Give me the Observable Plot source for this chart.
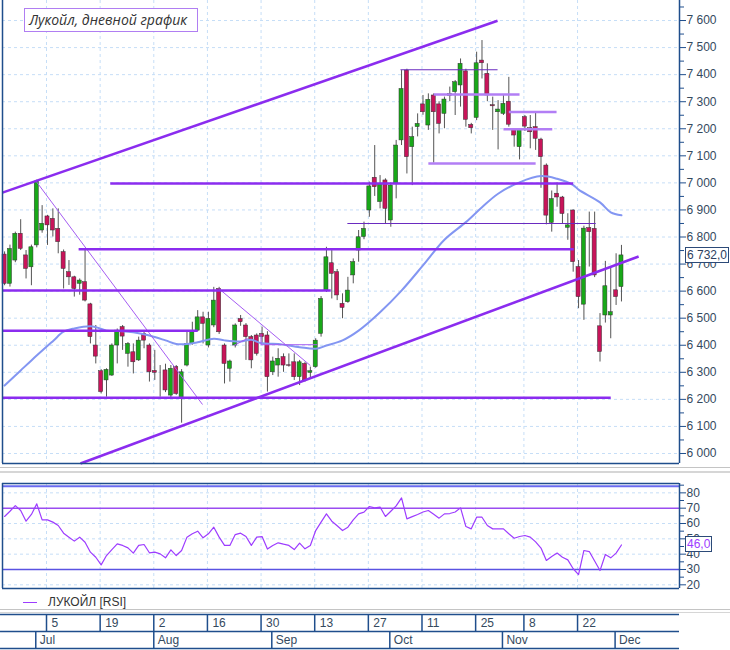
<!DOCTYPE html>
<html><head><meta charset="utf-8">
<script src="https://cdn.jsdelivr.net/npm/d3@7"></script>
<script src="https://cdn.jsdelivr.net/npm/@observablehq/plot@0.6"></script>
<style>
body{margin:0;background:#fff;font-family:"Liberation Sans",Arial,sans-serif;}
#wrap{position:relative;width:730px;height:650px;overflow:hidden;background:#fff;}
#wrap svg{position:absolute;left:0;overflow:visible;}
.box{position:absolute;background:#fff;border:1px solid #2c4a78;font-size:12px;line-height:14px;padding:0 1px;color:#2c3e5e;white-space:nowrap;}
</style></head>
<body><div id="wrap"></div>
<script>
// ---------- DATA ----------
// trading-day index 0 = Mon 5 Jul 2021; first candle index -8 (23 Jun)
const firstIdx = -8;
const opens = [
  6735,6627,6713,6812,6732,6688,6769,6824,
  6876,6867,6830,6744,6670,6651,6627,6633,6551,6399,
  6304,6270,6288,6399,6467,6368,6374,6344,6442,6399,
  6305,6300,6307,6214,6319,6202,6325,6405,6454,6503,
  6399,6473,6608,6399,6313,6399,6497,6473,6430,6436,
  6442,6436,6300,6325,6356,6326,6337,6282,6331,6298,
  6319,6442,6602,6703,6670,6553,6559,6658,6750,6800,
  6898,7019,6929,7009,6861,6996,7157,7415,7132,7206,
  7290,7212,7323,7290,7255,7322,7335,7360,7412,7214,
  7240,7452,7403,7287,7261,7255,7300,7196,7132,7243,
  7202,7206,7160,7064,6852,6960,6946,6834,6898,6689,
  6550,6833,6830,6470,6510,6510,6603,6615];
const highs = [
  6745,6770,6818,6864,6750,6770,7010,6916,
  6880,6904,6904,6752,6713,6655,6645,6753,6555,6473,
  6310,6313,6405,6460,6473,6410,6405,6430,6454,6405,
  6381,6325,6330,6325,6325,6310,6454,6485,6528,6522,
  6522,6614,6614,6405,6345,6479,6510,6480,6436,6442,
  6467,6450,6356,6387,6368,6368,6368,6344,6337,6319,
  6424,6580,6762,6750,6680,6590,6651,6719,6824,6855,
  7003,7138,7027,7015,7000,7157,7415,7420,7206,7255,
  7323,7329,7329,7300,7317,7354,7378,7458,7420,7220,
  7483,7526,7440,7317,7304,7323,7390,7200,7200,7249,
  7249,7261,7165,7070,6970,7000,6950,6886,6900,6713,
  6840,6892,6892,6517,6710,6689,6738,6769];
const lows = [
  6620,6615,6705,6750,6645,6620,6760,6814,
  6769,6800,6738,6608,6621,6578,6585,6560,6405,6331,
  6220,6208,6285,6331,6381,6319,6294,6340,6387,6264,
  6270,6208,6225,6205,6215,6112,6320,6400,6450,6405,
  6390,6465,6440,6257,6264,6390,6470,6344,6313,6360,
  6405,6227,6288,6282,6300,6319,6270,6251,6264,6276,
  6315,6430,6595,6571,6565,6498,6555,6627,6707,6790,
  6873,6950,6904,6849,6836,6941,7138,7033,6990,7170,
  7250,7194,7073,7181,7200,7300,7249,7280,7206,7181,
  7230,7384,7300,7194,7122,7249,7206,7132,7085,7190,
  7126,7120,6980,6845,6818,6910,6849,6788,6670,6535,
  6492,6689,6650,6338,6482,6424,6547,6560];
const closes = [
  6627,6756,6812,6756,6682,6762,7005,6849,
  6843,6824,6781,6682,6651,6608,6639,6565,6430,6358,
  6227,6309,6399,6454,6432,6405,6337,6417,6417,6300,
  6298,6300,6233,6313,6220,6300,6405,6448,6503,6479,
  6497,6565,6448,6331,6340,6473,6485,6430,6344,6368,
  6430,6282,6340,6350,6325,6324,6282,6337,6270,6304,
  6417,6571,6725,6664,6584,6538,6602,6707,6799,6830,
  6987,6984,6996,6904,6990,7138,7347,7095,7169,7218,
  7261,7307,7261,7218,7308,7328,7372,7440,7233,7202,
  7442,7442,7323,7283,7271,7292,7215,7175,7196,7208,
  7187,7163,7095,6879,6940,6946,6885,6843,6707,6578,
  6831,6818,6658,6375,6618,6522,6578,6732];

// moving average (read at selected days)
const maIdx = [-8,-5,-3,1,3,5,8,9,11,14,16,19,22,24,26,28,31,33,36,38,40,43,47,50,52,55,58,62,66,70,74,78,81,84,88,92,95,98,99,103,105,107];
const maVal = [6251,6307,6344,6415,6450,6462,6470,6467,6454,6452,6448,6436,6418,6405,6405,6411,6424,6418,6414,6420,6407,6405,6393,6387,6399,6418,6454,6522,6602,6695,6790,6855,6910,6960,7002,7025,7015,6992,6975,6928,6891,6880];

// RSI, one value per candle
const rsiVals = [
  64.6,68.0,71.7,68.5,61.5,65.9,72.8,62.4,
  62.4,60.9,58.7,53.7,51.1,48.5,51.1,47.8,41.3,38.0,
  33.0,39.1,43.0,46.7,45.7,44.1,40.7,45.7,46.3,40.9,
  41.3,40.2,37.6,42.8,39.1,42.4,51.1,53.3,55.0,50.7,
  53.3,57.6,51.1,45.7,45.7,52.8,53.7,51.5,45.7,51.1,
  51.5,43.3,45.7,47.4,46.5,45.7,43.0,47.2,43.5,45.7,
  55.4,60.9,66.3,61.5,58.5,55.4,57.6,62.4,66.3,67.4,
  71.1,70.2,70.7,64.6,68.0,71.5,76.7,63.0,64.5,65.9,
  67.5,68.5,66.0,63.5,66.3,66.5,67.5,70.2,58.0,56.5,
  64.1,64.1,58.7,56.5,56.5,56.5,53.3,50.4,51.5,52.2,
  51.1,48.0,44.0,35.9,38.5,40.7,38.0,36.3,30.5,26.7,
  42.4,41.7,35.5,29.3,39.8,37.6,40.7,46.0];

// drawn levels / trend lines: [idx1, price1, idx2, price2]
const trendLines = [[-8.4,6964,83.9,7599],[6.15,5963,110.2,6728]];
const levelLines = [[11.7,6998,98.0,6998],[5.8,6755,98.1,6755],[-8.4,6602,52.8,6602],[-8.4,6454,28.0,6454],[-8.4,6206,105.0,6206]];
const thinLines = [[-2.24,7009,28.9,6181],[31.9,6610,49.0,6325],[34.7,6399,37.3,6425],[39.8,6442,39.8,6402],[39.8,6402,50.3,6402]];
const darkLines = [[65.8,7418,83.9,7418],[55.9,6850,102.2,6850]];
const lightLevels = [[72,7327,88,7327],[86,7262,94.9,7262],[85,7198,94.1,7198],[71,7072,91,7072]];

// time axis
const dayTickIdx = [0,10,20,30,40,50,60,70,80,89,99];
const dayTickLabels = ["5","19","2","16","30","13","27","11","25","8","22"];
const monthIdx = [-2,20,42,64,85,106];
const monthLabels = ["Jul","Aug","Sep","Oct","Nov","Dec"];

const priceTicks = d3.range(6000, 7601, 100);
const priceMinor = d3.range(6050, 7651, 100);
const rsiTicks = [20,30,40,50,60,70,80];
const rsiMinor = [25,35,45,55,65,75,85];
const lastPrice = 6732.0, lastRsi = 46.0;

// ---------- BUILD ----------
const candles = opens.map((o,k)=>({i:firstIdx+k, open:o, high:highs[k], low:lows[k], close:closes[k]}));
const ma = maIdx.map((i,k)=>({i, v:maVal[k]}));
const rsi = rsiVals.map((v,k)=>({i:firstIdx+k, v}));
const seg = a => a.map(([x1,y1,x2,y2])=>({x1,y1,x2,y2}));
const days = dayTickIdx.map((i,k)=>({i, label:dayTickLabels[k]}));
const months = monthIdx.map((i,k)=>({i, label:monthLabels[k]}));

const X0 = -8.39, X1 = 117.82, XL = -8.76;
const AX = "#1f4e8c", TXT = "#34495e", GRID = "#c6def7";
const GREEN = "#18a818", RED = "#c8145a";
const PURPLE = "#8b2cef", LAV = "#b27ef5";
const fmt = d => d3.format(",")(d).replace(",", "\u00a0");
const style = {fontFamily:"'Liberation Sans',Arial,sans-serif", fontSize:"12px", color:TXT, background:"transparent"};
const wrap = document.getElementById("wrap");

const main = Plot.plot({
  width:730, height:470, marginLeft:2, marginRight:51, marginTop:0, marginBottom:7,
  x:{domain:[X0,X1], axis:null}, y:{domain:[5963,7674], axis:null}, style,
  marks:[
    Plot.ruleY(priceTicks, {stroke:GRID, strokeDasharray:"3,3"}),
    Plot.ruleX(dayTickIdx, {stroke:GRID, strokeDasharray:"3,3", dx:-1}),
    Plot.ruleX(candles, {x:"i", y1:"low", y2:"high", stroke:"#555", strokeWidth:1}),
    Plot.rect(candles, {x1:d=>d.i-0.38, x2:d=>d.i+0.38, y1:"open", y2:"close",
      fill:d=>d.close>=d.open?GREEN:RED, stroke:"#333", strokeWidth:0.5}),
    Plot.line(ma, {x:"i", y:"v", stroke:"#8396f2", strokeWidth:2, curve:"catmull-rom"}),
    Plot.link(seg(thinLines), {x1:"x1",y1:"y1",x2:"x2",y2:"y2", stroke:"#a55cf2", strokeWidth:1}),
    Plot.link(seg(darkLines), {x1:"x1",y1:"y1",x2:"x2",y2:"y2", stroke:"#6a2bc0", strokeWidth:1.2}),
    Plot.link(seg(lightLevels), {x1:"x1",y1:"y1",x2:"x2",y2:"y2", stroke:LAV, strokeWidth:2.5}),
    Plot.link(seg(levelLines), {x1:"x1",y1:"y1",x2:"x2",y2:"y2", stroke:PURPLE, strokeWidth:2.5}),
    Plot.link(seg(trendLines), {x1:"x1",y1:"y1",x2:"x2",y2:"y2", stroke:PURPLE, strokeWidth:2.5}),
    Plot.ruleX([X0], {stroke:AX, strokeWidth:1.5}),
    Plot.ruleX([X1], {stroke:AX, strokeWidth:1.5}),
    Plot.ruleY([5963], {stroke:AX, strokeWidth:1.5}),
    Plot.axisY(priceMinor, {anchor:"right", tickSize:4, tickFormat:()=>"", stroke:AX, label:null}),
    Plot.axisY(priceTicks, {anchor:"right", tickSize:6, tickPadding:1, tickFormat:fmt, stroke:AX, fill:TXT, fontSize:12, label:null})
  ]
});
main.style.top = "0px"; wrap.appendChild(main);

const rsiPlot = Plot.plot({
  width:730, height:120, marginLeft:2, marginRight:51, marginTop:13, marginBottom:2,
  x:{domain:[X0,X1], axis:null}, y:{domain:[17.6,86.1], axis:null}, style,
  marks:[
    Plot.ruleY([20,40,50,60,80], {stroke:GRID, strokeDasharray:"3,3"}),
    Plot.ruleX(dayTickIdx, {stroke:GRID, strokeDasharray:"3,3", dx:-1}),
    Plot.ruleY([70], {stroke:"#9a4cf0", strokeWidth:1.5}),
    Plot.ruleY([30], {stroke:"#5a52e2", strokeWidth:1.5}),
    Plot.ruleY([84.3], {stroke:"#6b6cf0", strokeWidth:2}),
    Plot.line(rsi, {x:"i", y:"v", stroke:"#9d3cff", strokeWidth:1.2}),
    Plot.ruleY([86.1], {stroke:AX, strokeWidth:1.5}),
    Plot.ruleY([17.6], {stroke:AX, strokeWidth:1.5}),
    Plot.ruleX([X0], {stroke:AX, strokeWidth:1.5}),
    Plot.ruleX([X1], {stroke:AX, strokeWidth:1.5}),
    Plot.axisY(rsiMinor, {anchor:"right", tickSize:4, tickFormat:()=>"", stroke:AX, label:null}),
    Plot.axisY(rsiTicks, {anchor:"right", tickSize:6, tickPadding:1, stroke:AX, fill:TXT, fontSize:12, label:null})
  ]
});
rsiPlot.style.top = "470px"; wrap.appendChild(rsiPlot);

const dateAxis = Plot.plot({
  width:730, height:38, marginLeft:2, marginRight:51, marginTop:2, marginBottom:2,
  x:{domain:[X0,X1], axis:null}, y:{domain:[0,2], axis:null}, style,
  marks:[
    Plot.ruleY([0,1,2], {x1:XL, x2:X1, stroke:AX, strokeWidth:1.5}),
    Plot.ruleX(days, {x:"i", y1:1, y2:2, stroke:AX, strokeWidth:1.5, dx:-1}),
    Plot.ruleX(months, {x:"i", y1:0, y2:1, stroke:AX, strokeWidth:1.5, dx:-1}),
    Plot.text(days, {x:"i", y:1.5, text:"label", dx:4, textAnchor:"start", fill:TXT, fontSize:12}),
    Plot.text(months, {x:"i", y:0.5, text:"label", dx:3, textAnchor:"start", fill:TXT, fontSize:12})
  ]
});
dateAxis.style.top = "612px"; wrap.appendChild(dateAxis);

// separators between panels
function div(css, html){ const d=document.createElement("div"); d.style.cssText="position:absolute;"+css; if(html) d.innerHTML=html; wrap.appendChild(d); return d; }
div("left:0;top:467px;width:730px;height:3px;border-top:1px solid #c4c4c4;border-bottom:2px solid #d6d6d6;");
div("left:0;top:609px;width:730px;height:2px;border-top:1px solid #c4c4c4;border-bottom:1px solid #d6d6d6;");

// title
div("left:24px;top:8px;width:168px;height:22px;border:1.5px solid #b07ef2;background:#fff;font-family:'Open Sans',sans-serif;font-style:italic;font-size:14px;line-height:22px;color:#333;padding-left:4px;white-space:nowrap;", "Лукойл, дневной график");

// legend
div("left:23px;top:602px;width:14px;height:0;border-top:1.5px solid #9d3cff;");
div("left:48px;top:595px;font-size:12px;color:#333;line-height:15px;white-space:nowrap;", "ЛУКОЙЛ [RSI]");

// last value boxes
const yP = main.scale("y").apply(lastPrice);
const bp = div("", "6\u00a0732,0"); bp.className="box"; bp.style.left="685px"; bp.style.top=(yP-8)+"px";
const yR = 470 + rsiPlot.scale("y").apply(lastRsi);
const br = div("", "46,0"); br.className="box"; br.style.left="685px"; br.style.top=(yR-8)+"px"; br.style.color="#9d3cff";
</script>
</body></html>
